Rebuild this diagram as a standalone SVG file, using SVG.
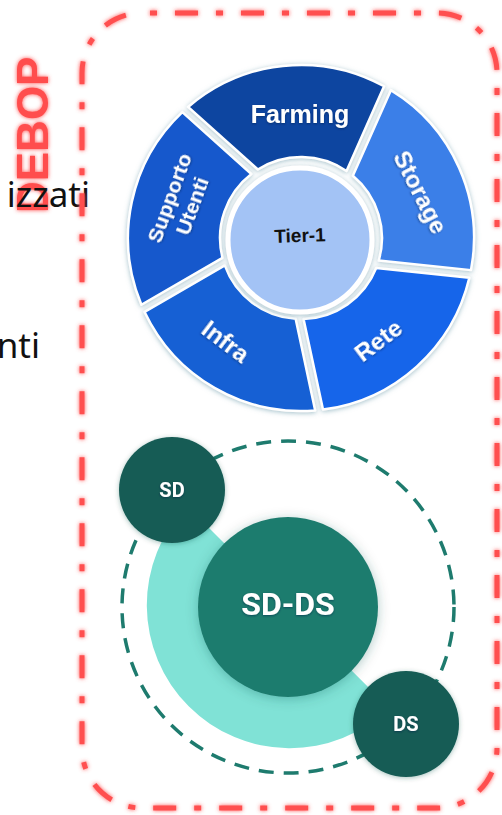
<svg xmlns="http://www.w3.org/2000/svg" width="502" height="815" viewBox="0 0 502 815">
<defs>
<style>
.side{font-family:"Noto Sans","Open Sans",sans-serif;font-size:35px;fill:#111;}
.debop{font-family:"Liberation Sans",Arial,sans-serif;font-weight:bold;font-size:44px;fill:#ff4d4d;}
.frame{fill:none;stroke:#ff5050;stroke-width:5;stroke-dasharray:23 18 7 18;stroke-dashoffset:33;}
.seg{stroke:#ffffff;stroke-width:2.5;stroke-linejoin:round;}
.wlabel{font-family:"Liberation Sans",Arial,sans-serif;font-weight:bold;font-size:24px;fill:#ffffff;text-anchor:middle;}
.tier{font-family:"Liberation Sans",Arial,sans-serif;font-weight:bold;font-size:19px;fill:#111;text-anchor:middle;}
.glabel{font-family:Roboto,"Liberation Sans",sans-serif;font-weight:bold;fill:#ffffff;text-anchor:middle;}
.ring{fill:none;stroke:#1e7b6e;stroke-width:3.5;stroke-dasharray:15 10;}
.small{fill:#165b54;}
</style>
<filter id="glow" x="-20%" y="-20%" width="140%" height="140%">
<feGaussianBlur in="SourceGraphic" stdDeviation="2" result="b"/>
<feMerge><feMergeNode in="b"/><feMergeNode in="SourceGraphic"/></feMerge>
</filter>
<filter id="wsh" x="-20%" y="-20%" width="140%" height="140%">
<feDropShadow dx="0" dy="1" stdDeviation="2.4" flood-color="#6f9fae" flood-opacity="0.65"/>
</filter>
<filter id="tsh" x="-20%" y="-20%" width="140%" height="140%">
<feDropShadow dx="0" dy="1" stdDeviation="1.2" flood-color="#04204a" flood-opacity="0.55"/>
</filter>
<filter id="gsh" x="-30%" y="-30%" width="160%" height="160%">
<feDropShadow dx="0" dy="2" stdDeviation="6" flood-color="#0f4d45" flood-opacity="0.3"/>
</filter>
<filter id="ssh" x="-30%" y="-30%" width="160%" height="160%">
<feDropShadow dx="0" dy="1" stdDeviation="2.5" flood-color="#0f4d45" flood-opacity="0.35"/>
</filter>
</defs>

<g id="side-text">
<text class="debop" filter="url(#glow)" transform="translate(48,213) rotate(-90)" x="0" y="0">DEBOP</text>
<text class="side" x="90" y="207" text-anchor="end">izzati</text>
<text class="side" x="40" y="358" text-anchor="end">nti</text>
</g>

<g id="frame">
<rect class="frame" filter="url(#glow)" x="82" y="13" width="415" height="795" rx="60" ry="60"/>
</g>

<g id="wheel">
<g id="storage">
<path class="seg" filter="url(#wsh)" fill="#3b7fe8" d="M390.87,90.17 A173,173 0 0 1 470.99,270.12 L378.78,260.60 A81,81 0 0 0 352.85,175.77 Z"/>
<text class="wlabel" filter="url(#tsh)" transform="translate(421,192) rotate(63)" y="8.5">Storage</text>
</g>
<g id="rete">
<path class="seg" filter="url(#wsh)" fill="#1565ea" d="M469.36,277.80 A173,173 0 0 1 322.98,409.60 L303.54,318.96 A81,81 0 0 0 376.21,268.08 Z"/>
<text class="wlabel" filter="url(#tsh)" transform="translate(378,340) rotate(-37)" y="8.5">Rete</text>
</g>
<g id="infra">
<path class="seg" filter="url(#wsh)" fill="#1460d4" d="M315.18,410.42 A173,173 0 0 1 144.59,311.93 L224.79,265.44 A81,81 0 0 0 295.63,318.82 Z"/>
<text class="wlabel" filter="url(#tsh)" transform="translate(226,341) rotate(37)" y="8.5">Infra</text>
</g>
<g id="supporto">
<path class="seg" filter="url(#wsh)" fill="#1259cc" d="M141.40,304.76 A173,173 0 0 1 182.34,112.10 L251.36,174.00 A81,81 0 0 0 222.48,257.87 Z"/>
<text class="wlabel" filter="url(#tsh)" style="font-size:21px" transform="translate(181,202) rotate(-70)"><tspan x="0" y="-5">Supporto</tspan><tspan x="0" y="19">Utenti</tspan></text>
</g>
<g id="farming">
<path class="seg" filter="url(#wsh)" fill="#0d45a0" d="M188.07,106.94 A173,173 0 0 1 384.08,86.25 L346.53,171.01 A81,81 0 0 0 257.83,169.46 Z"/>
<text class="wlabel" filter="url(#tsh)" x="300" y="123" style="font-size:25px">Farming</text>
</g>
<g id="tier-1">
<circle cx="300" cy="240" r="72" fill="#a3c3f5" stroke="#ffffff" stroke-width="5" filter="url(#wsh)"/>
<text class="tier" transform="rotate(-2,300,235)" x="300" y="242">Tier-1</text>
</g>
</g>

<g id="connectors">
<circle class="ring" cx="288" cy="607" r="166"/>
<path id="band" d="M186.9,505.9 A143,143 0 0 0 389.1,708.1 Z" fill="#80e2d6"/>
</g>

<g id="sd-ds">
<circle cx="288" cy="607" r="90" fill="#1e7b6e" filter="url(#gsh)"/>
<text class="glabel" filter="url(#tsh)" x="288" y="615" style="font-size:32px">SD-DS</text>
</g>
<g id="sd">
<circle class="small" cx="172" cy="490" r="53" filter="url(#ssh)"/>
<text class="glabel" filter="url(#tsh)" x="172" y="497" style="font-size:20px">SD</text>
</g>
<g id="ds">
<circle class="small" cx="406" cy="724" r="53" filter="url(#ssh)"/>
<text class="glabel" filter="url(#tsh)" x="406" y="731" style="font-size:20px">DS</text>
</g>
</svg>
